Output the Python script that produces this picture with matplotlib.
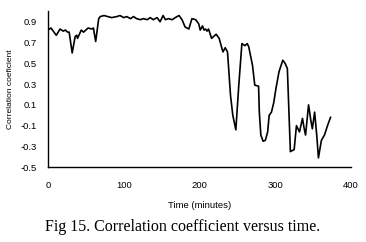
import matplotlib
matplotlib.use('Agg')
import matplotlib.pyplot as plt

# time (minutes) and correlation coefficient
time_min = [0, 4, 7, 11, 16, 20, 23, 26, 28, 32, 36, 38, 39, 44, 47, 50, 53, 58, 60, 63,
            67, 69, 74, 79, 84, 91, 95, 100, 104, 109, 113, 117, 122, 126, 131, 135, 139,
            144, 148, 152, 155, 159, 164, 168, 173, 177, 181, 186, 190, 195, 199, 201, 204,
            206, 208, 210, 212, 216, 219, 222, 226, 229, 231, 234, 237, 241, 244, 248, 252,
            256, 260, 263, 265, 270, 273, 278, 279, 281, 284, 287, 290, 292, 295, 298, 301,
            305, 310, 313, 316, 320, 325, 328, 332, 336, 338, 340, 344, 347, 349, 352, 355,
            357, 361, 365, 369, 373]
corr = [0.82, 0.84, 0.81, 0.77, 0.83, 0.81, 0.82, 0.80, 0.80, 0.60, 0.76, 0.77, 0.74, 0.82,
        0.80, 0.82, 0.84, 0.83, 0.84, 0.71, 0.93, 0.95, 0.96, 0.95, 0.94, 0.95, 0.96, 0.94,
        0.95, 0.93, 0.95, 0.93, 0.92, 0.93, 0.92, 0.94, 0.92, 0.94, 0.90, 0.96, 0.92, 0.93,
        0.92, 0.94, 0.96, 0.92, 0.85, 0.83, 0.93, 0.92, 0.88, 0.82, 0.86, 0.82, 0.83, 0.81,
        0.83, 0.74, 0.76, 0.78, 0.74, 0.66, 0.61, 0.65, 0.61, 0.19, 0.00, -0.14, 0.30, 0.69,
        0.67, 0.69, 0.66, 0.48, 0.29, 0.28, 0.03, -0.19, -0.25, -0.24, -0.16, 0.00, 0.03,
        0.12, 0.26, 0.42, 0.53, 0.50, 0.45, -0.35, -0.33, -0.10, -0.16, -0.03, -0.12, -0.19,
        0.10, -0.05, -0.13, 0.03, -0.21, -0.41, -0.24, -0.19, -0.10, -0.02]

x_ticks = [0, 100, 200, 300, 400]
y_ticks = [-0.5, -0.3, -0.1, 0.1, 0.3, 0.5, 0.7, 0.9]

plt.rcParams['font.family'] = ['Liberation Sans', 'DejaVu Sans']

fig = plt.figure(figsize=(3.66, 2.42), dpi=100)
ax = fig.add_axes([0.131, 0.309, 0.828, 0.644])
ax.plot(time_min, corr, color='black', linewidth=1.2)

ax.set_xlim(0, 400)
ax.set_ylim(-0.5, 1.0)
ax.set_xticks(x_ticks)
ax.set_yticks(y_ticks)
ax.set_yticklabels(['%.1f' % v for v in y_ticks])
ax.tick_params(axis='both', length=0, labelsize=6.8)
ax.tick_params(axis='x', pad=10)
ax.tick_params(axis='y', pad=8)
for s in ['top', 'right']:
    ax.spines[s].set_visible(False)
for s in ['left', 'bottom']:
    ax.spines[s].set_linewidth(1.0)

ax.set_xlabel('Time (minutes)', fontsize=6.8, labelpad=8)
ax.set_ylabel('Correlation coeficient', fontsize=6.0, labelpad=5)

fig.text(0.5, 0.064, 'Fig 15. Correlation coefficient versus time.',
         family='Liberation Serif', fontsize=11.5, ha='center', va='center')

fig.savefig('out.png', dpi=100)
